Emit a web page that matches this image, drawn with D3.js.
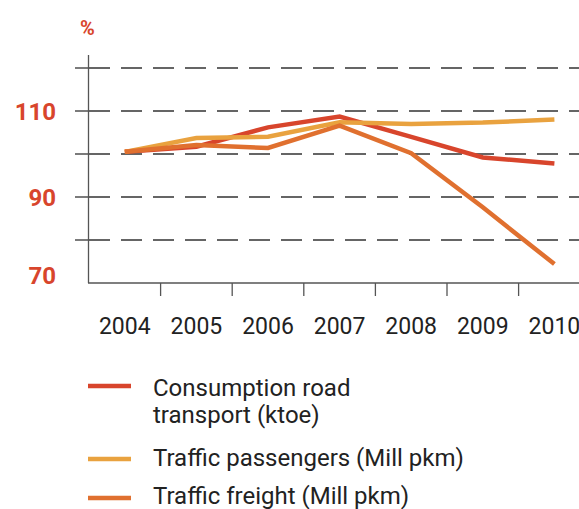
<!DOCTYPE html>
<html lang="en">
<head>
<meta charset="UTF-8">
<title>Road transport</title>
<style>
  body { margin: 0; background: #fff; }
  svg { font-family: Roboto, "DejaVu Sans", sans-serif; }
  .grid line { stroke: #333; stroke-width: 1.3; stroke-dasharray: 21, 11; }
  .series { fill: none; stroke-width: 4.5; stroke-linejoin: miter; }
</style>
</head>
<body>
<svg id="chart" width="579" height="509"></svg>
<script src="https://cdn.jsdelivr.net/npm/d3@7"></script>
<script>
const years = ["2004", "2005", "2006", "2007", "2008", "2009", "2010"];
const consumption = [100.5, 101.7, 106.2, 108.7, 104.0, 99.2, 97.8];
const passengers = [100.5, 103.7, 104.0, 107.4, 107.0, 107.3, 108.0];
const freight = [100.5, 102.1, 101.4, 106.6, 100.2, 87.6, 74.4];
const gridValues = [80, 90, 100, 110, 120];
const yLabels = [70, 90, 110];
const seriesNames = ["Consumption road|transport (ktoe)", "Traffic passengers (Mill pkm)", "Traffic freight (Mill pkm)"];
const seriesColors = ["#d8452c", "#e9a23f", "#e0702f"];

const svg = d3.select("#chart");
const plotLeft = 89, plotBottom = 283, plotTop = 55;

const x = d3.scaleBand().domain(years).range([plotLeft, plotLeft + 7 * 71.6]).padding(0);
const y = d3.scaleLinear().domain([70, 120]).range([plotBottom, 68]);

// dashed gridlines + left ticks
const grid = svg.append("g").attr("class", "grid");
grid.selectAll("line").data(gridValues).join("line")
  .attr("x1", plotLeft).attr("x2", 579)
  .attr("y1", d => y(d)).attr("y2", d => y(d));
svg.append("g").selectAll("line").data(gridValues).join("line")
  .attr("x1", 75).attr("x2", plotLeft)
  .attr("y1", d => y(d)).attr("y2", d => y(d))
  .attr("stroke", "#333").attr("stroke-width", 1.3);

// axes
svg.append("line").attr("x1", plotLeft - 0.5).attr("x2", plotLeft - 0.5).attr("y1", plotTop).attr("y2", plotBottom)
  .attr("stroke", "#555").attr("stroke-width", 1.3);
svg.append("line").attr("x1", plotLeft - 1).attr("x2", 579).attr("y1", plotBottom).attr("y2", plotBottom)
  .attr("stroke", "#555").attr("stroke-width", 1.3);
svg.append("g").selectAll("line").data(years.slice(1)).join("line")
  .attr("x1", d => x(d)).attr("x2", d => x(d))
  .attr("y1", plotBottom).attr("y2", plotBottom + 13)
  .attr("stroke", "#555").attr("stroke-width", 1.3);

// x labels
svg.append("g").selectAll("text").data(years).join("text")
  .attr("x", d => x(d) + x.bandwidth() / 2)
  .attr("y", 334)
  .attr("text-anchor", "middle")
  .attr("font-size", 23)
  .attr("fill", "#222")
  .text(d => d);

// y labels
svg.append("g").selectAll("text").data(yLabels).join("text")
  .attr("x", 56)
  .attr("y", d => Math.min(y(d), plotBottom - 8))
  .attr("dy", "0.36em")
  .attr("text-anchor", "end")
  .attr("font-size", 24)
  .attr("font-weight", "bold")
  .attr("fill", "#d8452c")
  .text(d => d);

svg.append("text").attr("x", 80).attr("y", 35)
  .attr("font-size", 20).attr("font-weight", "bold").attr("fill", "#d8452c").text("%");

// lines
const line = d3.line()
  .x((d, i) => x(years[i]) + x.bandwidth() / 2)
  .y(d => y(d));
[consumption, passengers, freight].forEach((s, i) => {
  svg.append("path").datum(s).attr("class", "series")
    .attr("stroke", seriesColors[i]).attr("d", line);
});

// legend
const legendY = [386, 459, 498];
const legendBase = [396, 466, 504];
const lg = svg.append("g");
seriesNames.forEach((name, i) => {
  lg.append("line").attr("x1", 88).attr("x2", 131)
    .attr("y1", legendY[i]).attr("y2", legendY[i])
    .attr("stroke", seriesColors[i]).attr("stroke-width", 4.5);
  const t = lg.append("text").attr("x", 153).attr("y", legendBase[i])
    .attr("font-size", 24).attr("fill", "#222");
  name.split("|").forEach((part, j) => {
    t.append("tspan").attr("x", 153).attr("dy", j ? 27 : 0).text(part);
  });
});
</script>
</body>
</html>
